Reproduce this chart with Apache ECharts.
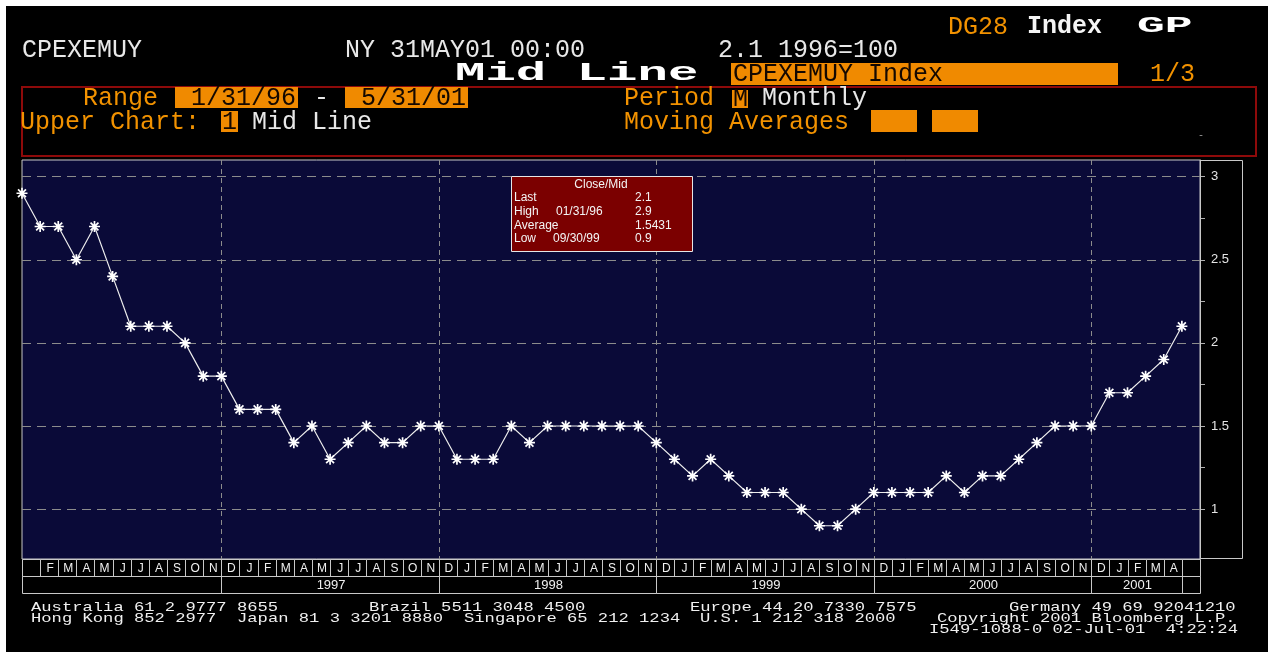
<!DOCTYPE html>
<html>
<head>
<meta charset="UTF-8">
<title>CPEXEMUY Mid Line</title>
<script src="https://cdn.jsdelivr.net/npm/echarts@6/dist/echarts.min.js"></script>
<style>
    *{margin:0;padding:0;}
    html,body{width:100%;height:100%;background:#fff;}
    #main{position:absolute;left:0;top:0;width:1268px;height:656px;}
</style>
</head>
<body>
<div id="main"></div>
<script>
// monthly categories, Jan 1996 .. May 2001
var years = ['1996', '1997', '1998', '1999', '2000', '2001'];
var monthNames = ['Jan', 'Feb', 'Mar', 'Apr', 'May', 'Jun', 'Jul', 'Aug', 'Sep', 'Oct', 'Nov', 'Dec'];
var monthLetters = ['J', 'F', 'M', 'A', 'M', 'J', 'J', 'A', 'S', 'O', 'N', 'D'];

// CPEXEMUY Index, monthly mid
var mid = [
    2.9, 2.7, 2.7, 2.5, 2.7, 2.4, 2.1, 2.1, 2.1, 2.0, 1.8, 1.8,
    1.6, 1.6, 1.6, 1.4, 1.5, 1.3, 1.4, 1.5, 1.4, 1.4, 1.5, 1.5,
    1.3, 1.3, 1.3, 1.5, 1.4, 1.5, 1.5, 1.5, 1.5, 1.5, 1.5, 1.4,
    1.3, 1.2, 1.3, 1.2, 1.1, 1.1, 1.1, 1.0, 0.9, 0.9, 1.0, 1.1,
    1.1, 1.1, 1.1, 1.2, 1.1, 1.2, 1.2, 1.3, 1.4, 1.5, 1.5, 1.5,
    1.7, 1.7, 1.8, 1.9, 2.1
];

// right axis
var yLabels = [1, 1.5, 2, 2.5, 3];
var yTicks = [1, 1.25, 1.5, 1.75, 2, 2.25, 2.5, 2.75, 3];
// vertical grid lines at each December
var gridMonths = [11, 23, 35, 47, 59];
// year row: [from, to, label]
var yearCells = [[0, 11, ''], [11, 23, '1997'], [23, 35, '1998'], [35, 47, '1999'], [47, 59, '2000'], [59, 64, '2001'], [64, 65, '']];

var months = [];
for (var i = 0; i < mid.length; i++) {
    months.push(monthNames[i % 12] + ' ' + years[Math.floor(i / 12)]);
}

// label cells under the plot: month row (row 1) and year row (row 0)
var cellData = [], cellLabels = [];
for (var m = 0; m < months.length; m++) {
    cellData.push([m, m + 1, 1]);
    cellLabels.push(m === 0 || m === months.length - 1 ? '' : monthLetters[m % 12]);
}
yearCells.forEach(function (c) {
    cellData.push([c[0], c[1], 0]);
    cellLabels.push(c[2]);
});

var last = mid[mid.length - 1];
var high = Math.max.apply(null, mid);
var low = Math.min.apply(null, mid);
var avg = mid.reduce(function (a, b) { return a + b; }, 0) / mid.length;

var ORANGE = '#f29200';
var BOX = '#f08a00';
var MONO = '"Liberation Mono", monospace';

function txt(x, y, s, color, size, opt) {
    opt = opt || {};
    return {
        type: 'text', x: x, y: y, scaleX: opt.sx || 1, z: 10,
        style: {
            text: s, fill: color,
            font: (opt.bold ? 'bold ' : '') + size + 'px ' + (opt.family || MONO),
            verticalAlign: 'middle', align: opt.align || 'left'
        }
    };
}
function txtS(x, y, s, align) {
    return {
        type: 'text', x: x, y: y, z: 101,
        style: {
            text: s, fill: '#f4f4f4', font: '12px "Liberation Sans", Arial, sans-serif',
            verticalAlign: 'middle', align: align || 'left'
        }
    };
}
function box(x, y, w, h, fill, stroke, lw) {
    return {
        type: 'rect', z: 5,
        shape: {x: x, y: y, width: w, height: h},
        style: {fill: fill || 'none', stroke: stroke || 'none', lineWidth: lw || 1}
    };
}

var chart = echarts.init(document.getElementById('main'));

var graphics = [
    {type: 'rect', z: -100, shape: {x: 6, y: 6, width: 1262, height: 646}, style: {fill: '#000'}},
    // header
    txt(22, 50, 'CPEXEMUY', '#e8e8e8', 25),
    txt(345, 50, 'NY 31MAY01 00:00', '#e8e8e8', 25),
    txt(718, 50, '2.1 1996=100', '#e8e8e8', 25),
    txt(948, 27, 'DG28', ORANGE, 25),
    txt(1027, 27, 'Index', '#f4f4f4', 25, {bold: true}),
    txt(1137, 26, 'GP', '#ffffff', 22, {bold: true, sx: 2.1}),
    txt(455, 73, 'Mid Line', '#ffffff', 26, {bold: true, sx: 1.95}),
    box(731, 63, 387, 22, BOX),
    txt(733, 74, 'CPEXEMUY Index', '#140800', 25),
    txt(1150, 74, '1/3', ORANGE, 25),
    // settings panel
    box(22, 87, 1234, 69, null, '#8e0a0a', 2),
    txt(83, 98, 'Range', ORANGE, 25),
    box(175, 87, 123, 21, BOX),
    txt(191, 98, '1/31/96', '#140800', 25),
    txt(314, 98, '-', '#e8e8e8', 25),
    box(345, 87, 123, 21, BOX),
    txt(361, 98, '5/31/01', '#140800', 25),
    txt(624, 98, 'Period', ORANGE, 25),
    box(732, 90, 16, 18, BOX),
    txt(733, 99, 'M', '#140800', 25),
    txt(762, 98, 'Monthly', '#e8e8e8', 25),
    txt(20, 122, 'Upper Chart:', ORANGE, 25),
    box(221, 111, 17, 21, BOX),
    txt(222, 122, '1', '#140800', 25),
    txt(252, 122, 'Mid Line', '#e8e8e8', 25),
    txt(624, 122, 'Moving Averages', ORANGE, 25),
    box(871, 110, 46, 22, BOX),
    box(932, 110, 46, 22, BOX),
    txt(1198, 135, '-', '#999', 10),
    // right axis frame
    {type: 'rect', z: 1, shape: {x: 1200.5, y: 160.5, width: 42, height: 398}, style: {fill: 'none', stroke: '#c8c8c8', lineWidth: 1}},
    // statistics box
    {
        type: 'group', x: 511, y: 176, z: 100,
        children: [
            {type: 'rect', z: 100, shape: {x: 0.5, y: 0.5, width: 181, height: 75}, style: {fill: '#7b0000', stroke: '#e6e6e6', lineWidth: 1}},
            txtS(90, 9, 'Close/Mid', 'center'),
            txtS(3, 22, 'Last'), txtS(124, 22, String(last)),
            txtS(3, 36, 'High'), txtS(45, 36, '01/31/96'), txtS(124, 36, String(high)),
            txtS(3, 50, 'Average'), txtS(124, 50, avg.toFixed(4)),
            txtS(3, 63, 'Low'), txtS(42, 63, '09/30/99'), txtS(124, 63, String(low))
        ]
    },
    // footer
    txt(31, 608, 'Australia 61 2 9777 8655', '#f0f0f0', 13, {sx: 1.32}),
    txt(369, 608, 'Brazil 5511 3048 4500', '#f0f0f0', 13, {sx: 1.32}),
    txt(690, 608, 'Europe 44 20 7330 7575', '#f0f0f0', 13, {sx: 1.32}),
    txt(1009, 608, 'Germany 49 69 92041210', '#f0f0f0', 13, {sx: 1.32}),
    txt(31, 619, 'Hong Kong 852 2977', '#f0f0f0', 13, {sx: 1.32}),
    txt(237, 619, 'Japan 81 3 3201 8880', '#f0f0f0', 13, {sx: 1.32}),
    txt(464, 619, 'Singapore 65 212 1234', '#f0f0f0', 13, {sx: 1.32}),
    txt(700, 619, 'U.S. 1 212 318 2000', '#f0f0f0', 13, {sx: 1.32}),
    txt(937, 619, 'Copyright 2001 Bloomberg L.P.', '#f0f0f0', 13, {sx: 1.32}),
    txt(929, 630, 'I549-1088-0 02-Jul-01  4:22:24', '#f0f0f0', 13, {sx: 1.32})
];

var option = {
    backgroundColor: 'transparent',
    animation: false,
    graphic: graphics,
    grid: [
        {left: 22, top: 160, width: 1178, height: 399, show: true,
            backgroundColor: '#0a0a38', borderColor: '#c8c8c8', borderWidth: 1},
        {left: 22, top: 559, width: 1178, height: 34}
    ],
    xAxis: [
        {
            type: 'category', gridIndex: 0, data: months.concat(['']), boundaryGap: false,
            axisLine: {show: false}, axisTick: {show: false}, axisLabel: {show: false},
            splitLine: {
                show: true,
                interval: function (idx) { return gridMonths.indexOf(idx) >= 0; },
                lineStyle: {color: '#8c8c8c', width: 1, type: [5, 4]}
            }
        },
        {type: 'value', gridIndex: 1, min: 0, max: 65, show: false}
    ],
    yAxis: [
        {
            type: 'value', gridIndex: 0, position: 'right', min: 0.7, max: 3.1,
            axisLine: {show: true, lineStyle: {color: '#c8c8c8'}},
            axisTick: {show: true, customValues: yTicks, length: 5, lineStyle: {color: '#b0b0b0'}},
            axisLabel: {
                customValues: yLabels, color: '#e4e4e4', fontSize: 13, margin: 11,
                fontFamily: '"Liberation Sans", Arial, sans-serif'
            },
            splitLine: {show: true, lineStyle: {color: ['#8c8c8c', 'rgba(0,0,0,0)'], width: 1, type: [9, 6]}}
        },
        {type: 'value', gridIndex: 1, min: 0, max: 2, show: false}
    ],
    series: [
        {
            name: 'CPEXEMUY Index', type: 'line', xAxisIndex: 0, yAxisIndex: 0,
            data: mid, z: 3,
            showAllSymbol: true,
            symbol: 'path://M5 0L5 10M0 5L10 5M1.4 1.4L8.6 8.6M8.6 1.4L1.4 8.6M3.8 3.8L6.2 3.8L6.2 6.2L3.8 6.2Z',
            symbolSize: 11,
            lineStyle: {color: '#ececec', width: 1.2},
            itemStyle: {color: '#ffffff', borderColor: '#ffffff', borderWidth: 1.7}
        },
        {
            type: 'custom', xAxisIndex: 1, yAxisIndex: 1, data: cellData,
            renderItem: function (params, api) {
                var p0 = api.coord([api.value(0), api.value(2) + 1]);
                var p1 = api.coord([api.value(1), api.value(2)]);
                var row = api.value(2);
                return {
                    type: 'group',
                    children: [
                        {type: 'rect',
                            shape: {x: Math.round(p0[0]) + 0.5, y: Math.round(p0[1]) + 0.5,
                                width: Math.round(p1[0]) - Math.round(p0[0]), height: Math.round(p1[1]) - Math.round(p0[1])},
                            style: {fill: 'none', stroke: '#c8c8c8', lineWidth: 1}},
                        {type: 'text',
                            style: {x: (p0[0] + p1[0]) / 2 + 1, y: (p0[1] + p1[1]) / 2 + 1,
                                text: cellLabels[params.dataIndex], fill: '#f0f0f0',
                                font: (row === 1 ? '12px' : '13px') + ' "Liberation Sans", Arial, sans-serif',
                                align: 'center', verticalAlign: 'middle'}}
                    ]
                };
            }
        }
    ]
};
chart.setOption(option);
</script>
</body>
</html>
